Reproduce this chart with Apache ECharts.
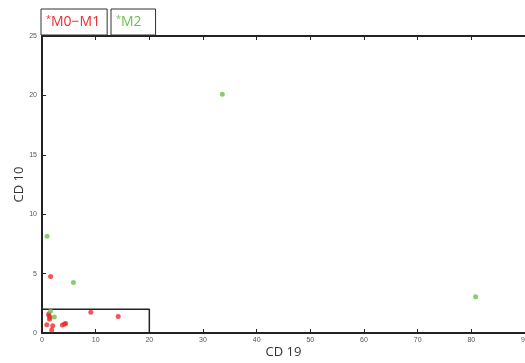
<!DOCTYPE html>
<html><head><meta charset="utf-8">
<script src="https://cdn.jsdelivr.net/npm/echarts@6/dist/echarts.min.js"></script>
<style>html,body{margin:0;padding:0;background:#fff}#c{width:525px;height:363px}</style>
</head><body><div id="c"></div>
<script>
const xTicks = [0,10,20,30,40,50,60,70,80,90];
const yTicks = [0,5,10,15,20,25];
const m01Name = 'M0\u2212M1';
const m2Name = 'M2';
const m01X = [1.6, 9.1, 14.2, 1.25, 1.5, 1.4, 0.9, 2.0, 1.8, 3.8, 4.2, 4.4, 1.3];
const m01Y = [4.75, 1.75, 1.38, 1.6, 1.3, 1.15, 0.7, 0.6, 0.25, 0.68, 0.75, 0.8, 1.45];
const m2X = [0.95, 5.85, 1.6, 2.3, 33.6, 80.8];
const m2Y = [8.15, 4.25, 1.85, 1.35, 20.1, 3.05];
const boxX = [0, 20, 20];
const boxY = [2, 2, 0];
const red = '#ee2b2e', green = '#6cc04a';
const zip = (a,b)=>a.map((v,i)=>[v,b[i]]);
const chart = echarts.init(document.getElementById('c'));
const axisLine = {show:true, lineStyle:{color:'#222', width:2}};
const legendText = (color)=>({fontSize:14, fontFamily:'Open Sans', color,
  rich:{s:{fontSize:9, color, verticalAlign:'top', padding:[0,0,5,0], fontFamily:'Open Sans'},
        t:{fontSize:14, color, fontFamily:'Open Sans'}}});
chart.setOption({
  animation:false,
  legend:[
    {left:41, top:9, data:[m01Name], icon:'none', itemWidth:0, itemGap:0,
     formatter:n=>'{s|*}{t|'+n+'}',
     borderColor:'#333', borderWidth:1, padding:[6,7,6,0], textStyle:legendText(red), selectedMode:false},
    {left:111, top:9, data:[m2Name], icon:'none', itemWidth:0, itemGap:0,
     formatter:n=>'{s|*}{t|'+n+'}',
     borderColor:'#333', borderWidth:1, padding:[6,14,6,0], textStyle:legendText(green), selectedMode:false}
  ],
  grid:{left:42, right:0, top:36, bottom:30, containLabel:false, outerBoundsMode:'none'},
  xAxis:[
    {type:'value', min:0, max:90, interval:10, name:'CD 19', nameLocation:'middle', nameGap:13, nameMoveOverlap:false,
     nameTextStyle:{fontSize:13, color:'#333', fontFamily:'Open Sans'},
     axisLine, axisTick:{show:true, inside:true, length:4, lineStyle:{color:'#222'}},
     axisLabel:{fontSize:7, color:'#555', margin:4, hideOverlap:false, showMaxLabel:true, formatter:v=>xTicks.includes(v)?String(v):''},
     splitLine:{show:false}},
    {type:'value', position:'top', min:0, max:90, interval:10,
     axisLine, axisTick:{show:true, inside:true, length:4, lineStyle:{color:'#222'}},
     axisLabel:{show:false}, splitLine:{show:false}}
  ],
  yAxis:{type:'value', min:0, max:25, interval:5, name:'CD 10', nameLocation:'middle', nameGap:16, nameMoveOverlap:false,
     nameTextStyle:{fontSize:13, color:'#333', fontFamily:'Open Sans'},
     axisLine, axisTick:{show:true, inside:true, length:4, lineStyle:{color:'#222'}},
     axisLabel:{fontSize:7, color:'#555', margin:5, formatter:v=>yTicks.includes(v)?String(v):''},
     splitLine:{show:false}},
  series:[
    {name:'box', type:'line', data:zip(boxX,boxY), symbol:'none', lineStyle:{color:'#222', width:1.5}, silent:true, z:1},
    {name:m01Name, type:'scatter', data:zip(m01X,m01Y), symbolSize:5, itemStyle:{color:red}, z:3},
    {name:m2Name, type:'scatter', data:zip(m2X,m2Y), symbolSize:5, itemStyle:{color:green}, z:3}
  ]
});
</script></body></html>
